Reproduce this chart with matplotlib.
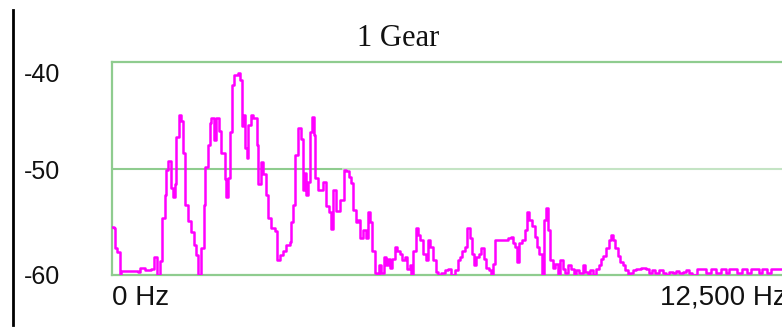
import matplotlib
matplotlib.use("Agg")
import matplotlib.pyplot as plt
from matplotlib.lines import Line2D
from matplotlib.transforms import blended_transform_factory, ScaledTranslation

# spectrum (Hz, dB)
freq_hz = [
    0, 37, 61, 98, 142, 172, 296, 481, 512, 605, 727, 777, 838, 882, 925, 975,
    1005, 1036, 1086, 1129, 1160, 1190, 1234, 1282, 1314, 1356, 1406, 1467,
    1517, 1560, 1591, 1641, 1702, 1726, 1776, 1807, 1837, 1887, 1930, 1980,
    2022, 2085, 2109, 2152, 2183, 2214, 2263, 2325, 2368, 2399, 2429, 2461,
    2492, 2522, 2572, 2614, 2677, 2707, 2757, 2799, 2862, 2892, 2954, 3016,
    3065, 3108, 3169, 3232, 3293, 3324, 3354, 3398, 3447, 3497, 3539, 3571,
    3602, 3632, 3663, 3706, 3743, 3768, 3817, 3867, 3909, 3972, 4015, 4052,
    4094, 4144, 4218, 4292, 4342, 4390, 4434, 4464, 4514, 4557, 4601, 4649,
    4699, 4742, 4786, 4823, 4866, 4908, 4945, 4989, 5032, 5069, 5112, 5143,
    5193, 5236, 5278, 5328, 5378, 5421, 5463, 5513, 5544, 5574, 5624, 5667,
    5711, 5759, 5809, 5852, 5896, 5944, 5994, 6037, 6099, 6161, 6222, 6284,
    6346, 6407, 6438, 6481, 6531, 6580, 6623, 6666, 6703, 6747, 6790, 6839,
    6888, 6932, 6975, 7012, 7054, 7098, 7147, 7302, 7332, 7382, 7424, 7468,
    7505, 7548, 7590, 7641, 7690, 7733, 7776, 7826, 7875, 7918, 7961, 7998,
    8042, 8085, 8122, 8164, 8208, 8257, 8307, 8349, 8393, 8442, 8504, 8553,
    8597, 8658, 8719, 8769, 8812, 8856, 8917, 8967, 9015, 9059, 9102, 9152,
    9200, 9237, 9274, 9324, 9367, 9411, 9459, 9509, 9552, 9596, 9644, 9707,
    9799, 9892, 9940, 10003, 10064, 10125, 10199, 10262, 10323, 10397, 10447,
    10508, 10569, 10632, 10693, 10749, 10841, 10934, 11008, 11100, 11193,
    11285, 11378, 11433, 11526, 11581, 11674, 11766, 11840, 11933, 11988,
    12044, 12136, 12210, 12358, 12500,
]
level_db = [
    -55.5, -55.6, -57.5, -57.8, -60.0, -59.6, -59.6, -59.7, -59.3, -59.5, -59.4,
    -58.3, -60.0, -58.7, -54.6, -52.5, -50.1, -49.3, -51.8, -52.7, -51.5, -47.0,
    -45.0, -45.5, -48.5, -53.4, -54.9, -56.0, -57.2, -58.1, -60.0, -57.5, -53.4,
    -49.9, -47.8, -45.7, -45.3, -47.3, -45.3, -46.5, -48.5, -51.0, -52.7, -50.9,
    -46.6, -42.2, -41.2, -41.0, -41.7, -46.0, -45.0, -48.1, -49.0, -45.9, -45.0,
    -45.3, -47.8, -51.5, -49.4, -50.5, -52.5, -54.6, -55.6, -55.9, -58.6, -58.1,
    -57.7, -57.2, -56.9, -55.0, -53.4, -48.7, -46.2, -47.2, -52.0, -50.4, -52.5,
    -51.3, -46.6, -45.2, -46.9, -50.9, -52.0, -52.0, -51.3, -53.5, -54.1, -55.7,
    -52.0, -54.0, -53.0, -50.1, -50.2, -50.8, -51.4, -53.9, -55.0, -54.8, -56.5,
    -55.8, -56.5, -54.1, -55.0, -57.7, -59.8, -60.0, -59.1, -59.8, -58.3, -59.1,
    -58.5, -59.3, -58.5, -57.4, -57.7, -58.0, -58.6, -58.3, -59.4, -59.1, -60.0,
    -57.7, -55.6, -56.2, -56.7, -58.0, -58.6, -56.7, -57.4, -58.6, -59.7, -60.0,
    -59.8, -59.5, -59.4, -60.0, -59.5, -58.6, -58.3, -57.7, -57.4, -55.6, -56.5,
    -58.0, -59.1, -58.3, -58.0, -57.5, -58.5, -59.3, -59.5, -60.0, -59.0, -56.7,
    -56.7, -56.7, -56.5, -56.4, -57.0, -57.4, -58.8, -57.0, -56.7, -55.8, -54.1,
    -54.8, -55.4, -56.4, -57.4, -58.0, -60.0, -54.8, -53.7, -55.8, -58.6, -59.3,
    -59.0, -60.0, -58.6, -59.4, -59.8, -59.1, -59.4, -60.0, -59.5, -59.8, -59.1,
    -59.7, -60.0, -59.5, -60.0, -59.4, -59.1, -58.5, -58.2, -57.5, -56.7, -56.2,
    -56.7, -57.5, -58.2, -58.8, -59.1, -59.5, -60.0, -59.8, -59.5, -59.4, -59.3,
    -59.4, -59.8, -59.5, -59.8, -59.5, -59.8, -60.0, -59.7, -59.8, -59.6, -59.8,
    -59.7, -59.5, -59.8, -60.0, -59.4, -59.4, -59.8, -59.4, -59.8, -59.4, -59.8,
    -59.4, -59.4, -59.8, -59.4, -59.8, -59.4, -59.4, -59.8, -59.4, -59.8, -59.4,
    -59.4, -59.6,
]

ytick_vals = [-40, -50, -60]
ytick_labels = ["-40", "-50", "-60"]
xlabels = ["0 Hz", "12,500 Hz"]
x_max = 12500

green = "#8fcc8f"
light_green = "#c4e4c4"

fig = plt.figure(figsize=(7.82, 3.29), dpi=100)
ax = fig.add_axes([0.1432, 0.1641, 0.863, 0.6474])

ax.plot(freq_hz, level_db, color="#ff00ff", lw=1.8, drawstyle="steps-post",
        zorder=3)

ax.set_xlim(0, x_max)
ax.set_ylim(-60, -40)

# middle grid line: darker on the left part, pale after
ax.axhline(-50, xmin=0, xmax=0.342, color=green, lw=1.5, zorder=1)
ax.axhline(-50, xmin=0.342, xmax=1, color=light_green, lw=1.5, zorder=1)

for side in ["top", "bottom", "left"]:
    ax.spines[side].set_color(green)
    ax.spines[side].set_linewidth(1.6)
ax.spines["right"].set_visible(False)
ax.set_xticks([])
ax.set_yticks([])

# y labels sit a little off the grid lines in the original
lab_tr = blended_transform_factory(fig.transFigure, ax.transData)
y_offsets = [-13, -3, -2]
for v, txt, off in zip(ytick_vals, ytick_labels, y_offsets):
    tr = lab_tr + ScaledTranslation(0, off / 100, fig.dpi_scale_trans)
    ax.text(0.031, v, txt, transform=tr, ha="left", va="center",
            fontsize=18, family="Liberation Sans", color="#111111")

xl_tr = blended_transform_factory(ax.transData, ax.transAxes)
ax.text(0, -0.045, xlabels[0], transform=xl_tr, ha="left", va="top",
        fontsize=20, family="Liberation Sans", color="#111111")
ax.text(x_max, -0.045, xlabels[1], transform=xl_tr, ha="right", va="top",
        fontsize=20, family="Liberation Sans", color="#111111", clip_on=False)

fig.text(398 / 782, 1 - 38 / 329, "1 Gear", ha="center", va="center",
         fontsize=22, family="Liberation Serif", color="#111111")

fig.add_artist(Line2D([0.016, 0.016], [0.012, 0.97], color="black", lw=2,
                      transform=fig.transFigure))

fig.savefig("out.png", dpi=100)
